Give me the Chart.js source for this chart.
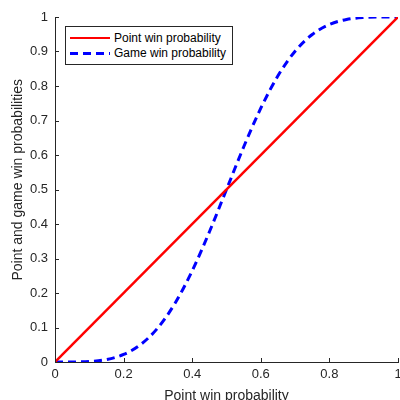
<!DOCTYPE html>
<html>
<head>
<meta charset="utf-8">
<script src="https://cdn.jsdelivr.net/npm/chart.js@4"></script>
<style>
  html, body { margin: 0; padding: 0; background: #fff; overflow: hidden; }
  #wrap { position: relative; width: 400px; height: 400px; overflow: hidden; }
  #legend {
    position: absolute; left: 65px; top: 26px; width: 166px; height: 37px;
    border: 1px solid #262626; background: #fff;
    font-family: "Liberation Sans", Arial, sans-serif; font-size: 12px; color: #000;
  }
  .row { position: absolute; left: 0; height: 14px; display: flex; align-items: center; }
  .sample { width: 40px; margin-left: 4px; margin-right: 4px; }
  .solid { border-top: 2.5px solid #ff0000; }
  .dashed { height: 3px; background: repeating-linear-gradient(90deg, #0000ff 0 8px, transparent 8px 13px); }
</style>
</head>
<body>
<div id="wrap">
  <canvas id="chart" width="400" height="405"></canvas>
  <div id="legend">
    <div class="row" style="top:4px"><div class="sample solid"></div><span>Point win probability</span></div>
    <div class="row" style="top:19px"><div class="sample dashed"></div><span>Game win probability</span></div>
  </div>
</div>
<script>
// ---- data ----
const pointProb = [0, 0.05, 0.1, 0.15, 0.2, 0.25, 0.3, 0.35, 0.4, 0.45, 0.5,
                   0.55, 0.6, 0.65, 0.7, 0.75, 0.8, 0.85, 0.9, 0.95, 1];
const gameProb = [0, 0.0001, 0.0015, 0.0071, 0.0218, 0.0508, 0.0992, 0.1704, 0.2643, 0.3769, 0.5,
                  0.6231, 0.7357, 0.8296, 0.9008, 0.9492, 0.9782, 0.9929, 0.9985, 0.9999, 1];
const lineX = [0, 1];
const lineY = [0, 1];
const xTicks = [0, 0.2, 0.4, 0.6, 0.8, 1];
const yTicks = [0, 0.1, 0.2, 0.3, 0.4, 0.5, 0.6, 0.7, 0.8, 0.9, 1];

const axisColor = '#262626';
const font = { family: '"Liberation Sans", Arial, sans-serif', size: 13 };
const titleFont = { family: '"Liberation Sans", Arial, sans-serif', size: 14 };

// inward tick marks, matlab style
const innerTicks = {
    id: 'innerTicks',
    afterDatasetsDraw(chart) {
        const { ctx, chartArea, scales } = chart;
        ctx.save();
        ctx.strokeStyle = axisColor;
        ctx.lineWidth = 1;
        ctx.beginPath();
        xTicks.forEach(v => {
            const px = Math.round(scales.x.getPixelForValue(v)) + 0.5;
            ctx.moveTo(px, chartArea.bottom);
            ctx.lineTo(px, chartArea.bottom - 4);
        });
        yTicks.forEach(v => {
            const py = Math.round(scales.y.getPixelForValue(v)) + 0.5;
            ctx.moveTo(chartArea.left, py);
            ctx.lineTo(chartArea.left + 4, py);
        });
        ctx.stroke();
        ctx.restore();
    }
};

new Chart(document.getElementById('chart').getContext('2d'), {
    type: 'line',
    data: {
        datasets: [
            {
                label: 'Point win probability',
                data: lineX.map((x, i) => ({ x, y: lineY[i] })),
                borderColor: '#ff0000', borderWidth: 2.5, pointRadius: 0, fill: false
            },
            {
                label: 'Game win probability',
                data: pointProb.map((x, i) => ({ x, y: gameProb[i] })),
                borderColor: '#0000ff', borderWidth: 3, borderDash: [8, 5],
                pointRadius: 0, fill: false, cubicInterpolationMode: 'monotone'
            }
        ]
    },
    options: {
        responsive: false,
        animation: false,
        layout: { padding: { top: 17, right: 2, left: 0, bottom: 0 } },
        plugins: { legend: { display: false }, tooltip: { enabled: false } },
        scales: {
            x: {
                type: 'linear', min: 0, max: 1,
                afterBuildTicks: s => { s.ticks = xTicks.map(v => ({ value: v })); },
                afterFit: s => { s.height = 43; s.paddingLeft = 0; s.paddingRight = 0; },
                ticks: { color: axisColor, font, padding: 5, maxRotation: 0,
                         callback: v => String(v) },
                grid: { display: false, drawTicks: false },
                border: { color: axisColor, width: 1 },
                title: { display: true, text: 'Point win probability', color: axisColor,
                         font: titleFont, padding: 0 }
            },
            y: {
                type: 'linear', min: 0, max: 1,
                afterBuildTicks: s => { s.ticks = yTicks.map(v => ({ value: v })); },
                afterFit: s => { s.width = 55; s.paddingTop = 0; s.paddingBottom = 0; },
                ticks: { color: axisColor, font, padding: 7,
                         callback: v => String(v) },
                grid: { display: false, drawTicks: false },
                border: { color: axisColor, width: 1 },
                title: { display: true, text: '\u00a0\u00a0\u00a0\u00a0\u00a0Point and game win probabilities',
                         color: axisColor, font: titleFont, padding: { top: 10, bottom: 0 } }
            }
        }
    },
    plugins: [innerTicks]
});
</script>
</body>
</html>
